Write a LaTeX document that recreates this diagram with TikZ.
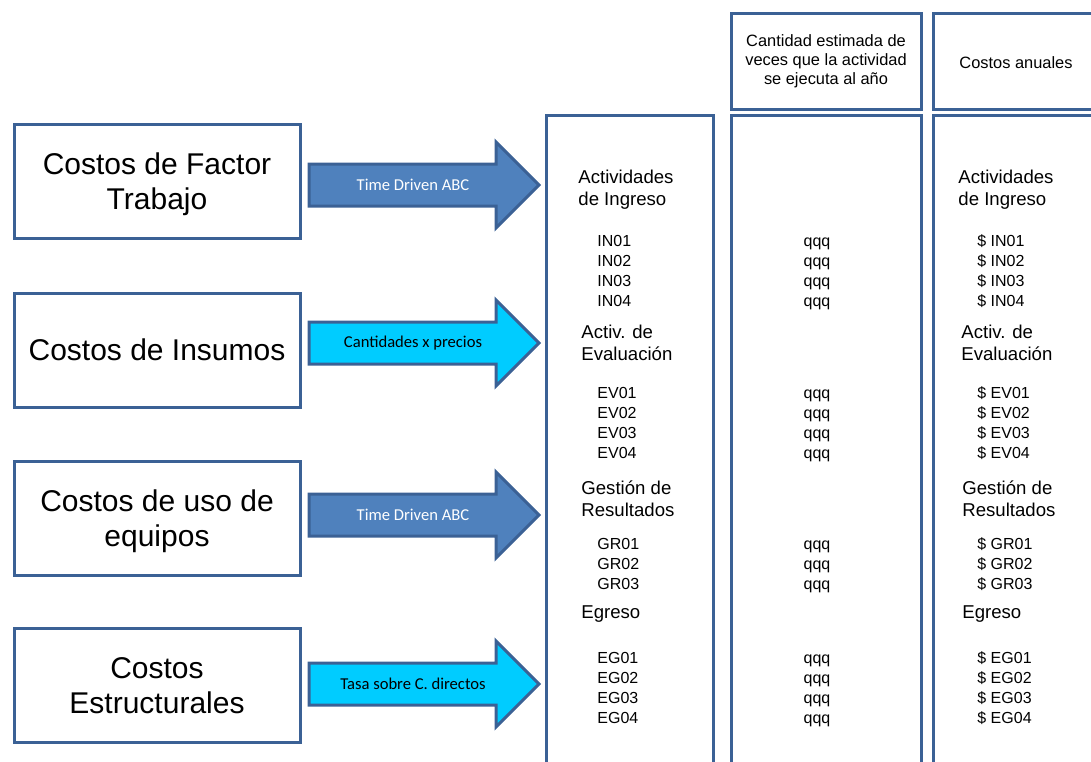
\documentclass[tikz,border=0pt]{standalone}
\usepackage{fontspec}
\setmainfont{Liberation Sans}
\newfontfamily\calibri{Carlito}
\definecolor{borde}{HTML}{3B6195}
\definecolor{azul}{HTML}{4F81BD}
\definecolor{celeste}{HTML}{00CCFF}
\tikzset{
  caja/.style={draw=borde, line width=1.5pt},
  grande/.style={caja, align=center, font=\fontsize{15}{17.5}\selectfont, text depth=0pt, minimum width=143pt, minimum height=57pt},
  titulo/.style={inner sep=0pt, anchor=base west, align=left, font=\fontsize{9.3}{11}\selectfont},
  item/.style={inner sep=0pt, anchor=base west, font=\fontsize{8}{10}\selectfont},
  rotulo/.style={inner sep=0pt, font=\calibri\fontsize{8.3}{10}\selectfont}
}
% block arrow: tip height, fill colour
\newcommand{\flecha}[2]{%
  \filldraw[draw=borde, line width=1.5pt, fill=#2] (309,#1-21) -- (496,#1-21) -- (496,#1-43)
    -- (539,#1) -- (496,#1+43) -- (496,#1+21) -- (309,#1+21) -- cycle;}
\begin{document}
\begin{tikzpicture}[x=0.5pt, y=-0.5pt]
	\clip (0,0) rectangle (1091,761);
	% left boxes
	\node[grande] (factor) at (157,181.5) {Costos de Factor\\Trabajo};
	\node[grande] (insumos) at (157,350) {Costos de Insumos};
	\node[grande] (equipos) at (157,518) {Costos de uso de\\equipos};
	\node[grande] (estruct) at (157,685.5) {Costos\\Estructurales};
	% arrows
	\flecha{185}{azul}
	\node[rotulo, text=white] (tdabc1) at (413,185) {Time Driven ABC};
	\flecha{343}{celeste}
	\node[rotulo] (cxp) at (413,343) {Cantidades x precios};
	\flecha{515}{azul}
	\node[rotulo, text=white] (tdabc2) at (413,515) {Time Driven ABC};
	\flecha{684}{celeste}
	\node[rotulo] (tasa) at (413,684) {Tasa sobre C. directos};
	% columns
	\draw[caja] (546,115) rectangle (713,800);
	\draw[caja] (731,115) rectangle (921,800);
	\draw[caja] (933,115) rectangle (1120,800);
	\node[caja, minimum width=95pt, minimum height=48pt, align=center, font=\fontsize{8.2}{9.5}\selectfont]
	  (veces) at (826,61) {Cantidad estimada de\\veces que la actividad\\se ejecuta al año};
	\draw[caja] (933,13) rectangle (1120,109);
	\node[font=\fontsize{8.2}{9.5}\selectfont] (anuales) at (1016,63) {Costos anuales};
	% activity groups (base = last line)
	\node[titulo] (ing) at (578,205) {Actividades\\de Ingreso};
	\node[titulo] (eva) at (581,360) {Activ. de\\Evaluación};
	\node[titulo] (ges) at (581,516) {Gestión de\\Resultados};
	\node[titulo] (egr) at (581,618) {Egreso};
	\node[titulo] (cing) at (958,205) {Actividades\\de Ingreso};
	\node[titulo] (ceva) at (961,360) {Activ. de\\Evaluación};
	\node[titulo] (cges) at (962,516) {Gestión de\\Resultados};
	\node[titulo] (cegr) at (962,618) {Egreso};
	\foreach \p/\y/\n in {IN/246/4, EV/398/4, GR/549/3, EG/663/4} {
	  \foreach \i in {1,...,\n} {
	    \node[item] (\p0\i) at (597,\y+20*\i-20) {\p0\i};
	    \node[item, anchor=base] (q\p\i) at (817,\y+20*\i-20) {qqq};
	    \node[item] (c\p\i) at (977,\y+20*\i-20) {\$ \p0\i};
	  }
	}
\end{tikzpicture}
\end{document}
